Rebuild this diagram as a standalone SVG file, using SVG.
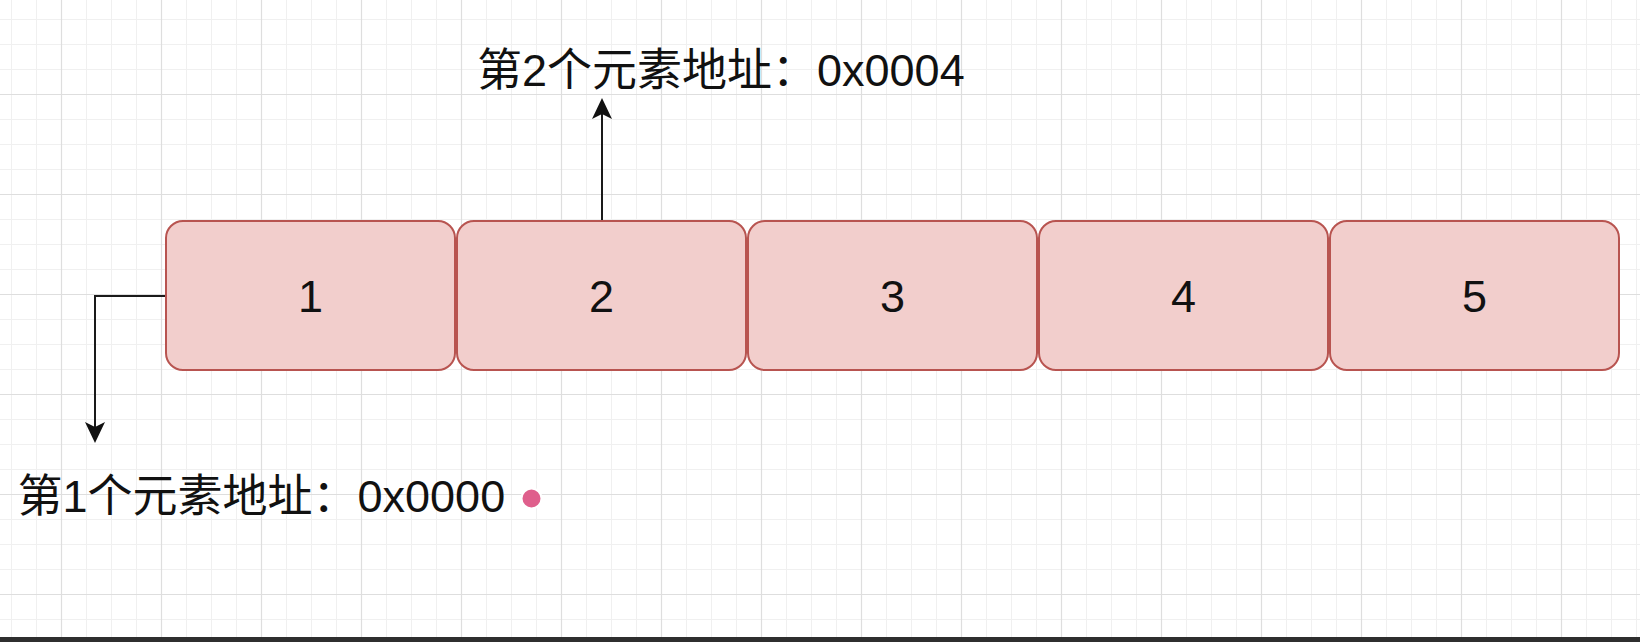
<svg xmlns="http://www.w3.org/2000/svg" width="1640" height="642" viewBox="0 0 1640 642">
  <defs>
    <pattern id="grid" patternUnits="userSpaceOnUse" x="0" y="0" width="100" height="100">
      <g stroke="#f0f0f0" stroke-width="1">
        <line x1="11.5" y1="0" x2="11.5" y2="100"/>
        <line x1="36.5" y1="0" x2="36.5" y2="100"/>
        <line x1="86.5" y1="0" x2="86.5" y2="100"/>
        <line x1="0" y1="19.5" x2="100" y2="19.5"/>
        <line x1="0" y1="44.5" x2="100" y2="44.5"/>
        <line x1="0" y1="69.5" x2="100" y2="69.5"/>
      </g>
      <g stroke="#dedede" stroke-width="1.2">
        <line x1="61.5" y1="0" x2="61.5" y2="100"/>
        <line x1="0" y1="94.5" x2="100" y2="94.5"/>
      </g>
    </pattern>
    <marker id="arrow" markerUnits="userSpaceOnUse" markerWidth="24" markerHeight="24" viewBox="-6 -12 24 24" refX="0" refY="0" orient="auto">
      <path d="M16,0 L-5,-10 L0,0 L-5,10 Z" fill="#111"/>
    </marker>
    <style>
      .box { fill: #f2cecc; stroke: #b85450; stroke-width: 2; }
      .num { font-family: "Liberation Sans", Arial, sans-serif; font-size: 45px; fill: #111; text-anchor: middle; }
      .lbl { font-family: "Liberation Sans", "Noto Sans CJK SC", sans-serif; font-size: 45px; fill: #111; }
      .conn { fill: none; stroke: #1a1a1a; stroke-width: 2; }
    </style>
  </defs>

  <rect x="0" y="0" width="1640" height="642" fill="#ffffff"/>
  <rect x="0" y="0" width="1640" height="642" fill="url(#grid)"/>

  <g id="connectors">
    <path class="conn" d="M166,296 H95 V427" marker-end="url(#arrow)"/>
    <path class="conn" d="M602,221 V114" marker-end="url(#arrow)"/>
  </g>

  <g id="node-1">
    <rect class="box" x="166" y="221" width="289" height="149" rx="17"/>
    <text class="num" x="310.5" y="312">1</text>
  </g>
  <g id="node-2">
    <rect class="box" x="457" y="221" width="289" height="149" rx="17"/>
    <text class="num" x="601.5" y="312">2</text>
  </g>
  <g id="node-3">
    <rect class="box" x="748" y="221" width="289" height="149" rx="17"/>
    <text class="num" x="892.5" y="312">3</text>
  </g>
  <g id="node-4">
    <rect class="box" x="1039" y="221" width="289" height="149" rx="17"/>
    <text class="num" x="1183.5" y="312">4</text>
  </g>
  <g id="node-5">
    <rect class="box" x="1330" y="221" width="289" height="149" rx="17"/>
    <text class="num" x="1474.5" y="312">5</text>
  </g>

  <g id="label-2">
    <text class="lbl" x="477" y="85.5">第2个元素地址：0x0004</text>
  </g>
  <g id="label-1">
    <text class="lbl" x="17.5" y="512">第1个元素地址：0x0000</text>
  </g>

  <circle cx="531.5" cy="498.5" r="10" fill="#df5f8c" stroke="#ffffff" stroke-width="2"/>

  <rect x="0" y="637" width="1640" height="5" fill="#2f2f2f"/>
</svg>
